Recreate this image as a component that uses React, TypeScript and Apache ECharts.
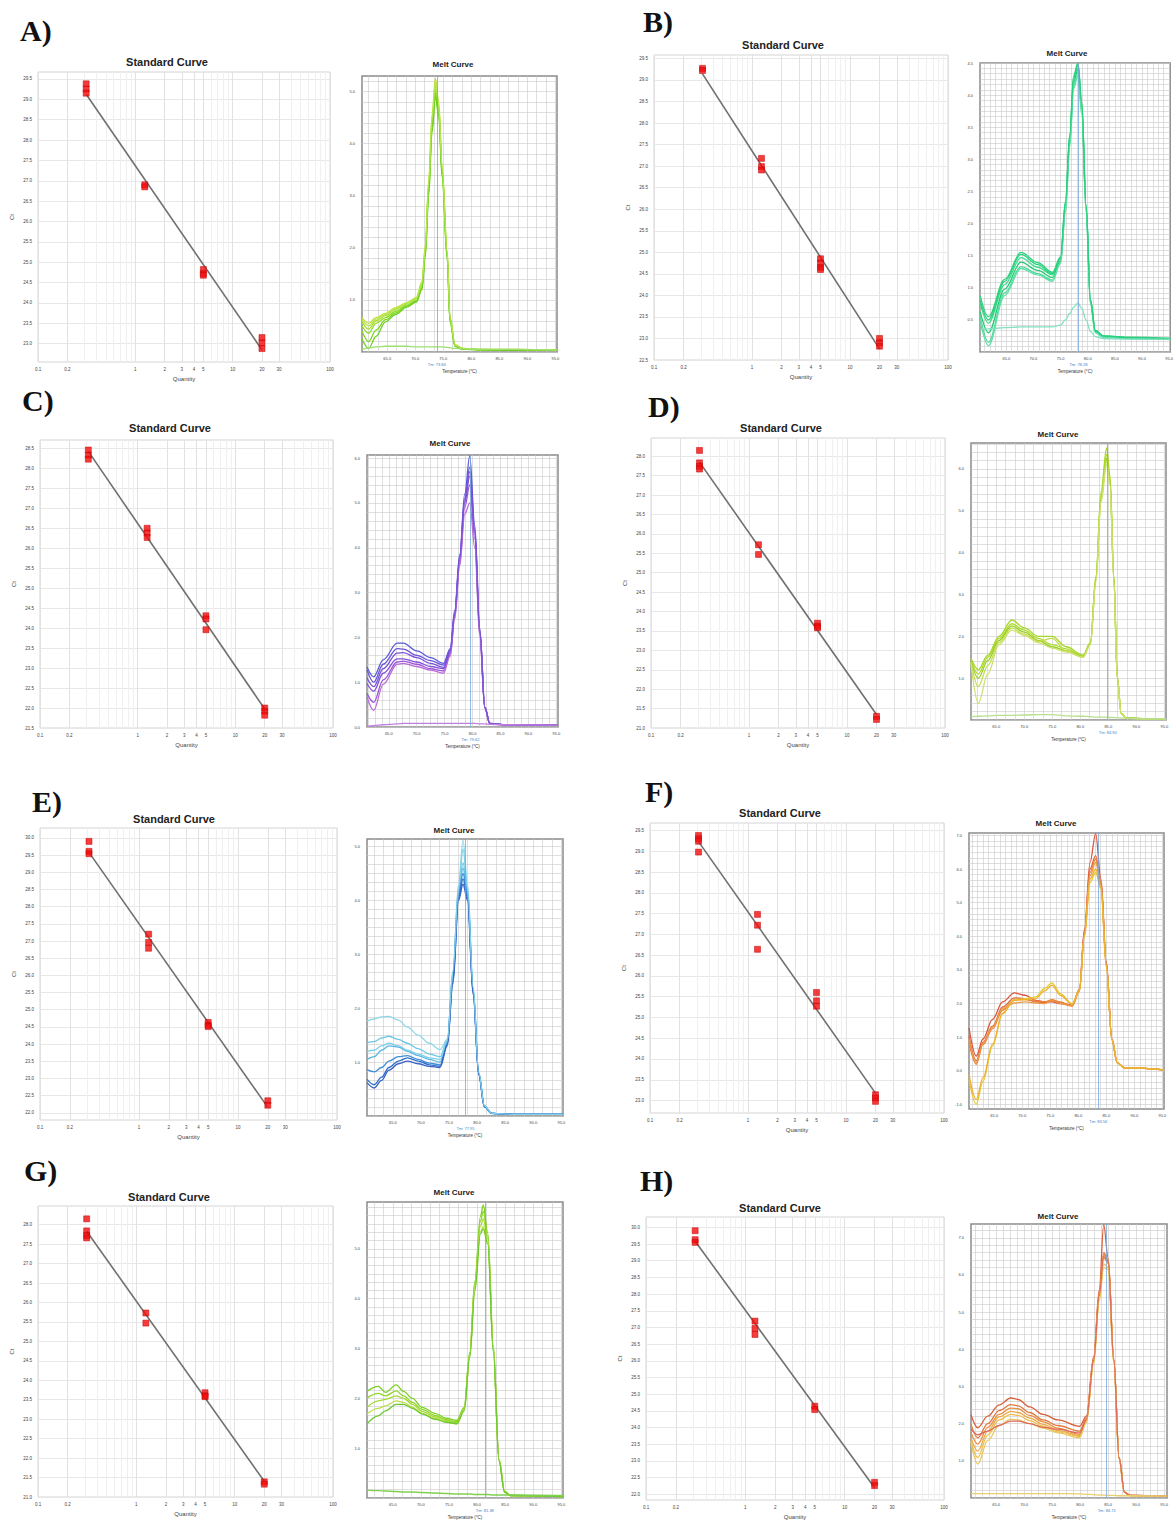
import React, { useEffect, useRef } from "react";
import * as echarts from "echarts";

// ---------------- DATA ----------------
const QUANTITIES = [0.3125, 1.25, 5, 20];
const STD_X_LABELS = [0.1, 0.2, 1, 2, 3, 4, 5, 10, 20, 30, 100];

// Ct replicates per dilution (same order as QUANTITIES)
const CT_A = [[29.38, 29.25, 29.15], [26.9, 26.85], [24.82, 24.72, 24.68], [23.15, 23.02, 22.88]];
const CT_B = [[29.27, 29.22], [27.18, 26.99, 26.91], [24.85, 24.75, 24.65, 24.6], [23.0, 22.9, 22.82]];
const CT_C = [[28.46, 28.33, 28.23], [26.5, 26.38, 26.27], [24.31, 24.23, 23.96], [22.0, 21.92, 21.82]];
const CT_D = [[28.15, 27.83, 27.74, 27.67], [25.72, 25.47], [23.7, 23.62, 23.58], [21.3, 21.22]];
const CT_E = [[29.9, 29.61, 29.54], [27.2, 26.96, 26.79], [24.63, 24.55, 24.51], [22.35, 22.22]];
const CT_F = [[29.38, 29.3, 29.24, 28.98], [27.48, 27.22, 26.64], [25.6, 25.4, 25.27], [23.14, 23.06, 22.98]];
const CT_G = [[28.15, 27.84, 27.72, 27.66], [25.73, 25.47], [23.68, 23.6, 23.58], [21.39, 21.33]];
const CT_H = [[29.9, 29.63, 29.55], [27.19, 26.97, 26.79], [24.64, 24.54], [22.36, 22.26]];

// Std-curve y tick labels
const STD_Y_A = [23.0, 23.5, 24.0, 24.5, 25.0, 25.5, 26.0, 26.5, 27.0, 27.5, 28.0, 28.5, 29.0, 29.5];
const STD_Y_B = [22.5, 23.0, 23.5, 24.0, 24.5, 25.0, 25.5, 26.0, 26.5, 27.0, 27.5, 28.0, 28.5, 29.0, 29.5];
const STD_Y_C = [21.5, 22.0, 22.5, 23.0, 23.5, 24.0, 24.5, 25.0, 25.5, 26.0, 26.5, 27.0, 27.5, 28.0, 28.5];
const STD_Y_D = [21.0, 21.5, 22.0, 22.5, 23.0, 23.5, 24.0, 24.5, 25.0, 25.5, 26.0, 26.5, 27.0, 27.5, 28.0];
const STD_Y_E = [22.0, 22.5, 23.0, 23.5, 24.0, 24.5, 25.0, 25.5, 26.0, 26.5, 27.0, 27.5, 28.0, 28.5, 29.0, 29.5, 30.0];
const STD_Y_F = [23.0, 23.5, 24.0, 24.5, 25.0, 25.5, 26.0, 26.5, 27.0, 27.5, 28.0, 28.5, 29.0, 29.5];
const STD_Y_G = [21.0, 21.5, 22.0, 22.5, 23.0, 23.5, 24.0, 24.5, 25.0, 25.5, 26.0, 26.5, 27.0, 27.5, 28.0];
const STD_Y_H = [22.0, 22.5, 23.0, 23.5, 24.0, 24.5, 25.0, 25.5, 26.0, 26.5, 27.0, 27.5, 28.0, 28.5, 29.0, 29.5, 30.0];

// Melt-curve tick labels
const MELT_X_LABELS = [65, 70, 75, 80, 85, 90, 95];
const MELT_Y_A = [1, 2, 3, 4, 5];
const MELT_Y_B = [0.5, 1.0, 1.5, 2.0, 2.5, 3.0, 3.5, 4.0, 4.5];
const MELT_Y_C = [0, 1, 2, 3, 4, 5, 6];
const MELT_Y_D = [1, 2, 3, 4, 5, 6];
const MELT_Y_E = [1, 2, 3, 4, 5];
const MELT_Y_F = [-1, 0, 1, 2, 3, 4, 5, 6, 7];
const MELT_Y_G = [1, 2, 3, 4, 5];
const MELT_Y_H = [1, 2, 3, 4, 5, 6, 7];

// Tm values
const TM = { A: 73.84, B: 78.28, C: 79.62, D: 84.9, E: 77.95, F: 83.56, G: 81.38, H: 84.72 };

// Melt curves: temperature grid + -dF/dT values per well
const MELT_T_A = [60.5, 61.7, 63, 64.7, 66.5, 68.5, 70.2, 71.2, 71.8, 72.4, 73.0, 73.6, 74.2, 74.8, 75.7, 76.2, 77.1, 78.5, 82, 88, 95.3];
const MELT_A = [
  [0.66, 0.55, 0.66, 0.74, 0.85, 0.95, 1.05, 1.35, 2.05, 3.3, 4.55, 5.26, 4.8, 3.55, 1.95, 0.68, 0.14, 0.07, 0.05, 0.05, 0.04],
  [0.58, 0.44, 0.6, 0.7, 0.82, 0.93, 1.02, 1.3, 1.98, 3.2, 4.42, 5.12, 4.7, 3.5, 1.9, 0.65, 0.13, 0.06, 0.05, 0.04, 0.03],
  [0.5, 0.36, 0.55, 0.66, 0.78, 0.9, 0.99, 1.26, 1.92, 3.12, 4.35, 5.04, 4.62, 3.45, 1.85, 0.63, 0.12, 0.06, 0.04, 0.04, 0.03],
  [0.4, 0.2, 0.42, 0.62, 0.75, 0.88, 0.97, 1.22, 1.88, 3.06, 4.28, 4.97, 4.57, 3.4, 1.82, 0.6, 0.11, 0.06, 0.04, 0.04, 0.03],
  [0.25, 0.07, 0.3, 0.58, 0.72, 0.86, 0.96, 1.2, 1.84, 3.0, 4.22, 4.9, 4.52, 3.35, 1.8, 0.58, 0.11, 0.05, 0.04, 0.03, 0.03],
  [0.62, 0.5, 0.63, 0.72, 0.83, 0.94, 1.03, 1.32, 2.0, 3.25, 4.48, 5.18, 4.74, 3.52, 1.92, 0.66, 0.13, 0.07, 0.05, 0.05, 0.04],
  [0.05, 0.08, 0.1, 0.11, 0.11, 0.11, 0.1, 0.1, 0.1, 0.1, 0.1, 0.1, 0.1, 0.1, 0.09, 0.08, 0.07, 0.06, 0.05, 0.05, 0.04],
];

const MELT_T_B = [60.2, 61.7, 64.7, 67.7, 70.8, 73.5, 75.0, 75.9, 76.7, 77.4, 78.2, 78.9, 79.7, 80.5, 81.4, 82.9, 88, 95.2];
const MELT_B = [
  [0.87, 0.55, 1.13, 1.55, 1.39, 1.24, 1.48, 2.35, 3.4, 4.3, 4.5, 3.9, 2.3, 0.82, 0.34, 0.25, 0.23, 0.21],
  [0.75, 0.45, 1.05, 1.47, 1.32, 1.2, 1.45, 2.3, 3.35, 4.25, 4.45, 3.85, 2.27, 0.8, 0.33, 0.24, 0.22, 0.2],
  [0.62, 0.3, 0.98, 1.4, 1.27, 1.16, 1.42, 2.25, 3.3, 4.2, 4.4, 3.8, 2.25, 0.78, 0.32, 0.24, 0.22, 0.2],
  [0.55, 0.15, 0.92, 1.33, 1.22, 1.12, 1.4, 2.2, 3.25, 4.15, 4.35, 3.75, 2.2, 0.76, 0.31, 0.23, 0.21, 0.2],
  [0.47, 0.1, 0.88, 1.3, 1.2, 1.1, 1.38, 2.18, 3.2, 4.1, 4.3, 3.7, 2.18, 0.75, 0.3, 0.23, 0.21, 0.2],
  [0.8, 0.5, 1.1, 1.52, 1.36, 1.22, 1.47, 2.33, 3.38, 4.28, 4.48, 3.88, 2.28, 0.81, 0.33, 0.25, 0.22, 0.21],
  [0.34, 0.36, 0.38, 0.39, 0.39, 0.39, 0.42, 0.5, 0.6, 0.7, 0.76, 0.68, 0.5, 0.32, 0.24, 0.21, 0.2, 0.2],
];

const MELT_T_C = [61.1, 62.3, 64.0, 66.5, 67.6, 70.0, 72.5, 74.8, 76.0, 76.8, 77.7, 78.6, 79.5, 80.4, 81.3, 82.2, 83.1, 86, 95.3];
const MELT_C = [
  [1.34, 1.12, 1.5, 1.87, 1.87, 1.7, 1.55, 1.42, 1.75, 2.6, 3.85, 5.2, 6.05, 4.5, 2.2, 0.45, 0.08, 0.05, 0.04],
  [1.27, 1.0, 1.4, 1.75, 1.74, 1.6, 1.48, 1.38, 1.72, 2.55, 3.8, 5.1, 5.8, 4.4, 2.15, 0.44, 0.08, 0.05, 0.04],
  [0.97, 0.8, 1.2, 1.52, 1.52, 1.45, 1.35, 1.3, 1.66, 2.5, 3.72, 5.0, 5.6, 4.3, 2.1, 0.43, 0.07, 0.05, 0.04],
  [0.75, 0.55, 1.05, 1.45, 1.47, 1.4, 1.3, 1.25, 1.62, 2.45, 3.65, 4.9, 5.4, 4.2, 2.05, 0.42, 0.07, 0.05, 0.04],
  [0.67, 0.37, 0.95, 1.4, 1.42, 1.35, 1.27, 1.2, 1.58, 2.4, 3.6, 4.75, 5.0, 4.0, 2.0, 0.41, 0.07, 0.04, 0.04],
  [1.1, 0.9, 1.3, 1.65, 1.66, 1.55, 1.42, 1.33, 1.68, 2.52, 3.76, 5.05, 5.7, 4.35, 2.12, 0.44, 0.08, 0.05, 0.04],
  [0.02, 0.03, 0.05, 0.07, 0.08, 0.08, 0.08, 0.08, 0.08, 0.08, 0.08, 0.08, 0.08, 0.08, 0.07, 0.07, 0.06, 0.05, 0.04],
];

const MELT_T_D = [60.5, 61.8, 63.5, 65.5, 67.8, 70, 72.5, 75, 77.5, 80.5, 81.8, 82.8, 83.7, 84.7, 85.3, 86.0, 86.6, 87.3, 88.2, 92, 95.3];
const MELT_D = [
  [1.48, 1.2, 1.55, 2.0, 2.39, 2.2, 2.0, 2.0, 1.75, 1.55, 1.85, 3.45, 5.45, 6.5, 5.85, 3.45, 1.05, 0.16, 0.05, 0.03, 0.03],
  [1.45, 1.1, 1.5, 1.95, 2.3, 2.15, 1.95, 1.8, 1.7, 1.53, 1.83, 3.4, 5.35, 6.35, 5.75, 3.4, 1.03, 0.16, 0.05, 0.03, 0.03],
  [1.4, 1.0, 1.42, 1.9, 2.25, 2.1, 1.9, 1.75, 1.66, 1.52, 1.82, 3.38, 5.3, 6.25, 5.7, 3.38, 1.02, 0.15, 0.05, 0.03, 0.03],
  [1.38, 0.8, 1.3, 1.85, 2.2, 2.05, 1.88, 1.95, 1.65, 1.5, 1.8, 3.35, 5.25, 6.2, 5.65, 3.35, 1.0, 0.15, 0.04, 0.03, 0.03],
  [1.36, 0.4, 1.1, 1.8, 2.15, 2.02, 1.85, 1.72, 1.62, 1.5, 1.8, 3.3, 5.2, 6.1, 5.6, 3.3, 1.0, 0.15, 0.04, 0.03, 0.03],
  [0.08, 0.09, 0.1, 0.11, 0.11, 0.12, 0.13, 0.13, 0.1, 0.09, 0.08, 0.07, 0.07, 0.07, 0.06, 0.06, 0.05, 0.05, 0.04, 0.03, 0.03],
];

const MELT_T_E = [60.4, 61.7, 63.0, 64.3, 66.0, 67.6, 69.5, 71.5, 73.4, 74.7, 75.7, 76.7, 77.5, 78.3, 79.3, 80.3, 81.3, 82.6, 87, 95.3];
const MELT_E = [
  [1.76, 1.8, 1.84, 1.85, 1.78, 1.65, 1.5, 1.35, 1.23, 1.42, 2.7, 4.3, 5.12, 4.3, 2.4, 0.8, 0.19, 0.05, 0.03, 0.03],
  [1.36, 1.38, 1.45, 1.48, 1.42, 1.35, 1.25, 1.15, 1.1, 1.4, 2.65, 4.2, 4.7, 4.2, 2.35, 0.8, 0.19, 0.05, 0.03, 0.03],
  [1.05, 1.1, 1.22, 1.3, 1.28, 1.2, 1.12, 1.05, 1.0, 1.38, 2.6, 4.15, 4.6, 4.15, 2.33, 0.78, 0.18, 0.05, 0.03, 0.03],
  [0.86, 0.82, 0.9, 1.02, 1.1, 1.12, 1.05, 0.98, 0.95, 1.35, 2.55, 4.1, 4.5, 4.1, 2.3, 0.78, 0.18, 0.05, 0.03, 0.03],
  [0.68, 0.58, 0.72, 0.9, 1.02, 1.08, 1.02, 0.95, 0.92, 1.33, 2.5, 4.05, 4.4, 4.05, 2.28, 0.77, 0.18, 0.05, 0.03, 0.03],
  [0.62, 0.52, 0.66, 0.85, 0.97, 1.02, 0.97, 0.92, 0.9, 1.3, 2.45, 4.0, 4.3, 4.0, 2.25, 0.76, 0.17, 0.05, 0.03, 0.03],
  [1.2, 1.22, 1.3, 1.35, 1.3, 1.22, 1.15, 1.08, 1.05, 1.4, 2.68, 4.25, 4.95, 4.25, 2.38, 0.8, 0.19, 0.05, 0.03, 0.03],
];

const MELT_T_F = [60.5, 61.8, 63.0, 64.7, 66.5, 68.6, 70.5, 72.4, 74.0, 75.3, 76.8, 78.9, 80.2, 81.1, 82.1, 83.1, 84.05, 85.0, 86.0, 86.95, 88.2, 95.3];
const MELT_F = [
  [1.28, 0.44, 0.95, 1.53, 2.05, 2.32, 2.25, 2.1, 2.05, 2.05, 2.0, 1.95, 2.42, 4.2, 6.2, 7.05, 5.7, 3.25, 0.95, 0.25, 0.1, 0.03],
  [1.04, 0.3, 0.85, 1.33, 1.9, 2.17, 2.15, 2.05, 2.02, 2.08, 2.02, 1.95, 2.4, 4.15, 6.0, 6.4, 5.6, 3.2, 0.95, 0.25, 0.1, 0.03],
  [0.84, 0.2, 0.78, 1.25, 1.8, 2.12, 2.12, 2.08, 2.05, 2.12, 2.05, 1.93, 2.38, 4.1, 5.9, 6.3, 5.55, 3.2, 0.94, 0.25, 0.1, 0.03],
  [0.95, 0.25, 0.82, 1.3, 1.85, 2.02, 2.05, 2.02, 2.0, 2.1, 2.0, 1.93, 2.36, 4.05, 5.8, 6.2, 5.5, 3.15, 0.93, 0.25, 0.1, 0.03],
  [-0.25, -0.99, -0.3, 0.74, 1.7, 2.12, 2.15, 2.2, 2.45, 2.62, 2.3, 2.0, 2.4, 4.0, 5.6, 5.9, 5.4, 3.1, 0.92, 0.24, 0.1, 0.03],
  [-0.1, -0.85, -0.2, 0.8, 1.72, 2.1, 2.12, 2.15, 2.38, 2.55, 2.25, 1.98, 2.38, 4.0, 5.7, 6.0, 5.45, 3.12, 0.92, 0.24, 0.1, 0.03],
];

const MELT_T_G = [60.4, 62.4, 63.7, 65.6, 66.9, 68.5, 70.2, 72.5, 74.5, 76.4, 77.7, 78.7, 79.6, 80.6, 81.1, 81.9, 82.9, 83.9, 84.9, 85.9, 95.3];
const MELT_G = [
  [2.14, 2.24, 2.12, 2.27, 2.14, 2.0, 1.82, 1.7, 1.6, 1.56, 1.82, 2.92, 4.35, 5.65, 5.88, 5.32, 3.05, 0.78, 0.13, 0.05, 0.03],
  [2.01, 2.1, 2.05, 2.15, 2.05, 1.92, 1.78, 1.66, 1.57, 1.53, 1.8, 2.9, 4.3, 5.55, 5.75, 5.25, 3.0, 0.77, 0.13, 0.05, 0.03],
  [1.82, 1.95, 1.98, 2.05, 2.0, 1.88, 1.74, 1.63, 1.55, 1.51, 1.78, 2.88, 4.25, 5.45, 5.6, 5.2, 2.98, 0.76, 0.13, 0.05, 0.03],
  [1.69, 1.8, 1.85, 1.95, 1.92, 1.82, 1.7, 1.6, 1.53, 1.49, 1.76, 2.85, 4.2, 5.35, 5.45, 5.15, 2.95, 0.75, 0.12, 0.05, 0.03],
  [1.49, 1.65, 1.75, 1.88, 1.88, 1.8, 1.69, 1.58, 1.52, 1.49, 1.75, 2.82, 4.15, 5.3, 5.4, 5.1, 2.92, 0.74, 0.12, 0.05, 0.03],
  [0.16, 0.15, 0.14, 0.13, 0.12, 0.12, 0.11, 0.1, 0.09, 0.08, 0.08, 0.08, 0.07, 0.07, 0.07, 0.07, 0.06, 0.06, 0.06, 0.06, 0.05],
];

const MELT_T_H = [60.5, 61.7, 63.5, 65.5, 67.6, 68.9, 71, 73.4, 76, 79.9, 81.1, 82.4, 83.4, 84.2, 85.0, 86.0, 86.95, 87.9, 88.9, 95.5];
const MELT_H = [
  [2.24, 1.89, 2.2, 2.5, 2.69, 2.65, 2.45, 2.25, 2.1, 1.93, 2.2, 3.8, 5.6, 7.35, 6.45, 3.75, 1.09, 0.16, 0.07, 0.05],
  [1.98, 1.62, 2.0, 2.35, 2.51, 2.48, 2.3, 2.1, 1.95, 1.8, 2.15, 3.75, 5.5, 6.6, 6.4, 3.72, 1.08, 0.16, 0.07, 0.05],
  [1.76, 1.45, 1.9, 2.25, 2.42, 2.4, 2.22, 2.05, 1.88, 1.71, 2.1, 3.7, 5.45, 6.55, 6.35, 3.7, 1.07, 0.16, 0.07, 0.05],
  [1.62, 1.26, 1.8, 2.18, 2.33, 2.3, 2.15, 1.98, 1.82, 1.68, 2.08, 3.68, 5.4, 6.45, 6.3, 3.68, 1.06, 0.15, 0.07, 0.05],
  [1.54, 1.09, 1.7, 2.1, 2.25, 2.22, 2.08, 1.93, 1.78, 1.65, 2.05, 3.65, 5.35, 6.3, 6.2, 3.65, 1.05, 0.15, 0.06, 0.05],
  [1.5, 0.91, 1.55, 1.95, 2.12, 2.1, 2.0, 1.88, 1.75, 1.62, 2.03, 3.6, 5.3, 6.2, 6.15, 3.6, 1.04, 0.15, 0.06, 0.05],
  [1.85, 1.7, 1.8, 1.95, 2.07, 2.07, 2.0, 1.9, 1.85, 1.75, 2.1, 3.7, 5.45, 6.5, 6.35, 3.7, 1.07, 0.16, 0.07, 0.05],
  [0.12, 0.12, 0.12, 0.12, 0.12, 0.12, 0.12, 0.12, 0.12, 0.11, 0.1, 0.09, 0.08, 0.08, 0.07, 0.07, 0.06, 0.06, 0.06, 0.05],
];

// ---------------- LAYOUT / STYLE ----------------
type Rect = [number, number, number, number];
interface Panel {
  letter: string; letterPos: [number, number];
  stdRect: Rect; stdTitle: [number, number]; stdY: [number, number]; stdYLabels: number[]; ct: number[][];
  meltRect: Rect; meltTitle: [number, number]; meltX: [number, number]; meltY: [number, number];
  meltYLabels: number[]; meltYStep: number; xDiv: number; yDiv: number;
  tm: number; temps: number[]; curves: number[][]; colors: string[];
}

const PANELS: Panel[] = [
  { letter: "A)", letterPos: [20, 30], stdRect: [38, 72, 330, 362], stdTitle: [167, 62], stdY: [22.55, 29.67], stdYLabels: STD_Y_A, ct: CT_A,
    meltRect: [362, 76, 557, 352], meltTitle: [453, 64], meltX: [60.5, 95.3], meltY: [0, 5.3], meltYLabels: MELT_Y_A, meltYStep: 1, xDiv: 3, yDiv: 5,
    tm: TM.A, temps: MELT_T_A, curves: MELT_A, colors: ["#c6e03a", "#a8e030", "#8fdc28", "#7cd61e", "#6ccf20", "#b4e650", "#9ee070"] },
  { letter: "B)", letterPos: [643, 21], stdRect: [654, 55, 948, 360], stdTitle: [783, 45], stdY: [22.5, 29.58], stdYLabels: STD_Y_B, ct: CT_B,
    meltRect: [980, 63, 1175, 352], meltTitle: [1067, 53], meltX: [60.15, 95.2], meltY: [0, 4.5], meltYLabels: MELT_Y_B, meltYStep: 0.5, xDiv: 5, yDiv: 6,
    tm: TM.B, temps: MELT_T_B, curves: MELT_B, colors: ["#2fd27a", "#3cdc8a", "#22c870", "#4fd99a", "#5fe0a8", "#28cf7f", "#80e0c0"] },
  { letter: "C)", letterPos: [22, 400], stdRect: [40, 440, 333, 728], stdTitle: [170, 428], stdY: [21.5, 28.71], stdYLabels: STD_Y_C, ct: CT_C,
    meltRect: [367, 455, 558, 727], meltTitle: [450, 443], meltX: [61.1, 95.3], meltY: [0, 6.07], meltYLabels: MELT_Y_C, meltYStep: 1, xDiv: 4, yDiv: 5,
    tm: TM.C, temps: MELT_T_C, curves: MELT_C, colors: ["#5a5ad8", "#6b56d8", "#8450d8", "#9a55d6", "#bb6ad8", "#7a52d8", "#c080e0"] },
  { letter: "D)", letterPos: [648, 406], stdRect: [651, 438, 945, 728], stdTitle: [781, 428], stdY: [21.0, 28.47], stdYLabels: STD_Y_D, ct: CT_D,
    meltRect: [971, 443, 1166, 720], meltTitle: [1058, 434], meltX: [60.5, 95.3], meltY: [0, 6.62], meltYLabels: MELT_Y_D, meltYStep: 1, xDiv: 3, yDiv: 5,
    tm: TM.D, temps: MELT_T_D, curves: MELT_D, colors: ["#a4d62a", "#b2da2e", "#94d02c", "#c4dc48", "#cfe070", "#b8e090"] },
  { letter: "E)", letterPos: [32, 801], stdRect: [40, 828, 337, 1120], stdTitle: [174, 819], stdY: [21.79, 30.29], stdYLabels: STD_Y_E, ct: CT_E,
    meltRect: [367, 839, 563, 1116], meltTitle: [454, 830], meltX: [60.4, 95.3], meltY: [0, 5.14], meltYLabels: MELT_Y_E, meltYStep: 1, xDiv: 3, yDiv: 6,
    tm: TM.E, temps: MELT_T_E, curves: MELT_E, colors: ["#8fd8ea", "#6cc8e6", "#58b6e2", "#3f8ed8", "#2f6fcc", "#3a62c4", "#7fd0ea"] },
  { letter: "F)", letterPos: [645, 791], stdRect: [650, 823, 944, 1113], stdTitle: [780, 813], stdY: [22.7, 29.68], stdYLabels: STD_Y_F, ct: CT_F,
    meltRect: [969, 833, 1164, 1109], meltTitle: [1056, 823], meltX: [60.5, 95.3], meltY: [-1.13, 7.07], meltYLabels: MELT_Y_F, meltYStep: 1, xDiv: 5, yDiv: 6,
    tm: TM.F, temps: MELT_T_F, curves: MELT_F, colors: ["#d9553a", "#e0683a", "#e8803a", "#ec9a45", "#e8c830", "#eeb030"] },
  { letter: "G)", letterPos: [24, 1170], stdRect: [38, 1206, 333, 1497], stdTitle: [169, 1197], stdY: [21.0, 28.48], stdYLabels: STD_Y_G, ct: CT_G,
    meltRect: [367, 1202, 563, 1506], meltTitle: [454, 1192], meltX: [60.4, 95.3], meltY: [0, 5.94], meltYLabels: MELT_Y_G, meltYStep: 1, xDiv: 3, yDiv: 6,
    tm: TM.G, temps: MELT_T_G, curves: MELT_G, colors: ["#7ccf22", "#8ed62a", "#a6da36", "#bede4c", "#6cc830", "#80d050"] },
  { letter: "H)", letterPos: [640, 1180], stdRect: [646, 1217, 944, 1508], stdTitle: [780, 1208], stdY: [21.83, 30.31], stdYLabels: STD_Y_H, ct: CT_H,
    meltRect: [971, 1224, 1167, 1501], meltTitle: [1058, 1216], meltX: [60.5, 95.5], meltY: [0, 7.37], meltYLabels: MELT_Y_H, meltYStep: 1, xDiv: 4, yDiv: 5,
    tm: TM.H, temps: MELT_T_H, curves: MELT_H, colors: ["#d9603c", "#e07a40", "#e89040", "#eda84a", "#eec050", "#e8c860", "#dd6a5a", "#e8d070"] },
];

const FONT = "Liberation Sans";

function gridVals(min: number, max: number, anchor: number, step: number): number[] {
  const out: number[] = [];
  let k = Math.ceil((min - anchor) / step - 1e-9);
  for (;;) {
    const v = anchor + k * step;
    if (v > max + 1e-9) break;
    out.push(+v.toFixed(5));
    k++;
  }
  return out;
}

function stdMinor(): number[] {
  const out: number[] = [];
  [0.1, 1, 10].forEach((d) => {
    for (let m = 1; m <= 9; m++) out.push(Math.log10(m * d));
  });
  out.push(2);
  return out;
}

function regression(cts: number[][]): number[][] {
  const xs: number[] = [];
  const ys: number[] = [];
  cts.forEach((arr, i) => arr.forEach((c) => { xs.push(Math.log10(QUANTITIES[i])); ys.push(c); }));
  const n = xs.length;
  const mx = xs.reduce((a, b) => a + b, 0) / n;
  const my = ys.reduce((a, b) => a + b, 0) / n;
  let sxy = 0, sxx = 0;
  for (let i = 0; i < n; i++) { sxy += (xs[i] - mx) * (ys[i] - my); sxx += (xs[i] - mx) ** 2; }
  const slope = sxy / sxx;
  const b = my - slope * mx;
  const x0 = Math.log10(QUANTITIES[0]);
  const x1 = Math.log10(QUANTITIES[QUANTITIES.length - 1]);
  return [[x0, b + slope * x0], [x1, b + slope * x1]];
}

function buildOption() {
  const grid: any[] = [];
  const xAxis: any[] = [];
  const yAxis: any[] = [];
  const series: any[] = [];
  const graphic: any[] = [];
  const minor = stdMinor();
  const stdLabelVals = STD_X_LABELS.map((v) => Math.log10(v));

  PANELS.forEach((p) => {
    // panel letter
    graphic.push({
      type: "text", x: p.letterPos[0], y: p.letterPos[1], z: 10,
      style: { text: p.letter, font: 'bold 30px "Liberation Serif"', fill: "#111", align: "left", verticalAlign: "middle",
        textShadowColor: "rgba(40,90,200,0.55)", textShadowOffsetX: 1.2, textShadowOffsetY: 1, textShadowBlur: 0 },
    });
    graphic.push({ type: "text", x: p.stdTitle[0], y: p.stdTitle[1], style: { text: "Standard Curve", font: `bold 11px "${FONT}"`, fill: "#222", align: "center", verticalAlign: "middle" } });
    graphic.push({ type: "text", x: p.meltTitle[0], y: p.meltTitle[1], style: { text: "Melt Curve", font: `bold 8px "${FONT}"`, fill: "#222", align: "center", verticalAlign: "middle" } });

    // ---- Standard curve ----
    const [sx1, sy1, sx2, sy2] = p.stdRect;
    const gi = grid.length;
    grid.push({ left: sx1, top: sy1, width: sx2 - sx1, height: sy2 - sy1, show: true, borderColor: "#d4d4d4", borderWidth: 1, backgroundColor: "#fff" });
    xAxis.push({
      type: "value", gridIndex: gi, min: -1, max: 2, position: "bottom",
      axisLine: { show: false }, axisTick: { show: false, customValues: minor }, axisLabel: { show: false },
      splitLine: { show: true, lineStyle: { color: "#f0f0f0", width: 1 } },
    });
    const sxi = xAxis.length;
    xAxis.push({
      type: "value", gridIndex: gi, min: -1, max: 2, position: "bottom",
      name: "Quantity", nameLocation: "middle", nameGap: 14, nameTextStyle: { fontSize: 6, color: "#444", fontFamily: FONT },
      axisLine: { show: false }, axisTick: { show: false, customValues: stdLabelVals },
      axisLabel: { customValues: stdLabelVals, fontSize: 4.5, color: "#444", margin: 5, fontFamily: FONT,
        formatter: (v: number) => String(Math.round(Math.pow(10, v) * 1000) / 1000) },
      splitLine: { show: true, lineStyle: { color: "#e2e2e2", width: 1 } },
    });
    const syi = yAxis.length;
    yAxis.push({
      type: "value", gridIndex: gi, min: p.stdY[0], max: p.stdY[1], position: "left",
      name: "Ct", nameLocation: "middle", nameGap: 23, nameRotate: 90, nameTextStyle: { fontSize: 6, color: "#444", fontFamily: FONT },
      axisLine: { show: false }, axisTick: { show: false, customValues: p.stdYLabels },
      axisLabel: { customValues: p.stdYLabels, fontSize: 4.5, color: "#444", margin: 6, fontFamily: FONT, formatter: (v: number) => v.toFixed(1) },
      splitLine: { show: true, lineStyle: { color: "#e8e8e8", width: 1 } },
    });
    series.push({
      type: "line", xAxisIndex: sxi, yAxisIndex: syi, data: regression(p.ct), symbol: "none", showSymbol: false,
      lineStyle: { color: "#707070", width: 1.6 }, z: 2, silent: true,
    });
    const pts: number[][] = [];
    p.ct.forEach((arr, i) => arr.forEach((c) => pts.push([Math.log10(QUANTITIES[i]), c])));
    series.push({
      type: "scatter", xAxisIndex: sxi, yAxisIndex: syi, data: pts, symbol: "rect", symbolSize: [6, 6],
      itemStyle: { color: "#f20d0d", borderColor: "#c00000", borderWidth: 0.6 }, z: 3, silent: true,
    });

    // ---- Melt curve ----
    const [mx1, my1, mx2, my2] = p.meltRect;
    const mi = grid.length;
    grid.push({ left: mx1, top: my1, width: mx2 - mx1, height: my2 - my1, show: true, borderColor: "#8a8a8a", borderWidth: 1.5, backgroundColor: "#fff" });
    const xMinorVals = gridVals(p.meltX[0], p.meltX[1], 65, 5 / p.xDiv);
    xAxis.push({
      type: "value", gridIndex: mi, min: p.meltX[0], max: p.meltX[1], position: "bottom",
      axisLine: { show: false }, axisTick: { show: false, customValues: xMinorVals }, axisLabel: { show: false },
      splitLine: { show: true, lineStyle: { color: "#c9c9c9", width: 0.6 } },
    });
    const mxi = xAxis.length;
    xAxis.push({
      type: "value", gridIndex: mi, min: p.meltX[0], max: p.meltX[1], position: "bottom",
      name: "Temperature (°C)", nameLocation: "middle", nameGap: 17, nameTextStyle: { fontSize: 4.5, color: "#333", fontFamily: FONT },
      axisLine: { show: false }, axisTick: { show: false, customValues: MELT_X_LABELS },
      axisLabel: { customValues: MELT_X_LABELS, fontSize: 4, color: "#444", margin: 4, fontFamily: FONT, formatter: (v: number) => v.toFixed(1) },
      splitLine: { show: false },
    });
    xAxis.push({
      type: "value", gridIndex: mi, min: p.meltX[0], max: p.meltX[1], position: "bottom",
      axisLine: { show: false }, axisTick: { show: false, customValues: [p.tm] },
      axisLabel: { customValues: [p.tm], fontSize: 4, color: "#3b7fc8", margin: 10, fontFamily: FONT, formatter: (v: number) => "Tm: " + v.toFixed(2) },
      splitLine: { show: false },
    });
    const yMinorVals = gridVals(p.meltY[0], p.meltY[1], 0, p.meltYStep / p.yDiv);
    yAxis.push({
      type: "value", gridIndex: mi, min: p.meltY[0], max: p.meltY[1], position: "left",
      axisLine: { show: false }, axisTick: { show: false, customValues: yMinorVals }, axisLabel: { show: false },
      splitLine: { show: true, lineStyle: { color: "#c9c9c9", width: 0.6 } },
    });
    const myi = yAxis.length;
    yAxis.push({
      type: "value", gridIndex: mi, min: p.meltY[0], max: p.meltY[1], position: "left", offset: 0,
      axisLine: { show: false }, axisTick: { show: false, customValues: p.meltYLabels },
      axisLabel: { customValues: p.meltYLabels, fontSize: 4, color: "#444", margin: 7, fontFamily: FONT, formatter: (v: number) => v.toFixed(1) },
      splitLine: { show: false },
    });
    p.curves.forEach((vals, ci) => {
      const s: any = {
        type: "line", xAxisIndex: mxi, yAxisIndex: myi, data: p.temps.map((t, i) => [t, vals[i]]),
        symbol: "none", showSymbol: false, smooth: 0.35, smoothMonotone: "x",
        lineStyle: { color: p.colors[ci % p.colors.length], width: 1.3 }, z: 3, silent: true,
      };
      if (ci === 0) {
        s.markLine = {
          silent: true, symbol: ["none", "none"], animation: false, label: { show: false },
          lineStyle: { color: "#78a8dc", width: 0.8, type: "solid", opacity: 1 },
          emphasis: { disabled: true },
          data: [{ xAxis: p.tm }],
        };
      }
      series.push(s);
    });
  });

  return {
    animation: false,
    backgroundColor: "#ffffff",
    textStyle: { fontFamily: FONT },
    grid, xAxis, yAxis, series, graphic,
  };
}

export default function App() {
  const ref = useRef<HTMLDivElement>(null);
  useEffect(() => {
    document.body.style.margin = "0";
    if (!ref.current) return;
    const chart = echarts.init(ref.current, null, { renderer: "svg" });
    chart.setOption(buildOption() as any);
    return () => chart.dispose();
  }, []);
  return <div ref={ref} style={{ width: 1176, height: 1521, background: "#fff" }} />;
}
